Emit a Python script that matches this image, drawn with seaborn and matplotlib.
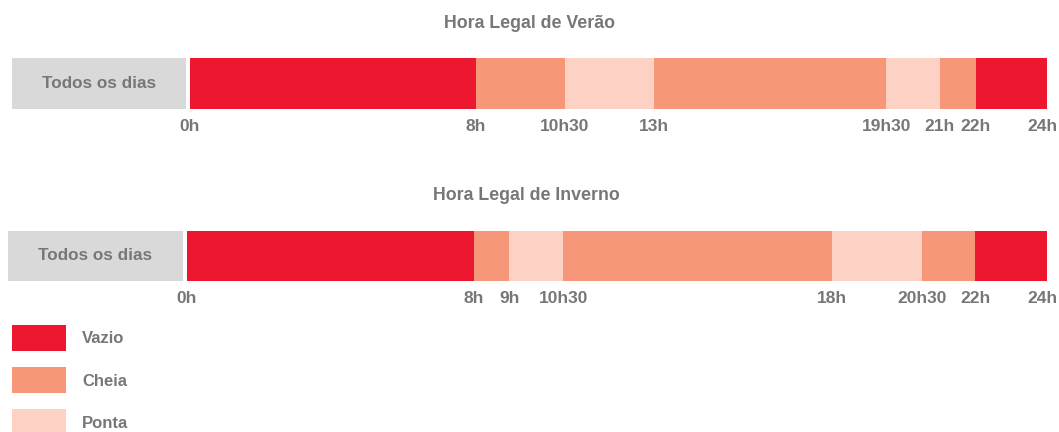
"""
Ciclo diário - horários de Vazio / Cheia / Ponta
"""

import matplotlib
matplotlib.use('Agg')
import matplotlib.pyplot as plt
import matplotlib.transforms as mtransforms
from matplotlib.patches import Patch
import seaborn as sns
import pandas as pd

# data
SUMMER_HOURS = [0, 8, 10.5, 13, 19.5, 21, 22, 24]
SUMMER_PERIODS = ['Vazio', 'Cheia', 'Ponta', 'Cheia', 'Ponta', 'Cheia', 'Vazio']
SUMMER_LABELS = ['0h', '8h', '10h30', '13h', '19h30', '21h', '22h', '24h']

WINTER_HOURS = [0, 8, 9, 10.5, 18, 20.5, 22, 24]
WINTER_PERIODS = ['Vazio', 'Cheia', 'Ponta', 'Cheia', 'Ponta', 'Cheia', 'Vazio']
WINTER_LABELS = ['0h', '8h', '9h', '10h30', '18h', '20h30', '22h', '24h']

ROW_LABEL = 'Todos os dias'
PERIODS = ['Vazio', 'Cheia', 'Ponta']
COLORS = {'Vazio': '#ee1730', 'Cheia': '#f59778', 'Ponta': '#fdd1c3'}
GREY_BOX = '#d9d9d9'
TEXT = '#777777'

W, H = 1059, 432

sns.set_theme(style='white')
plt.rcParams['font.family'] = ['Liberation Sans', 'DejaVu Sans']
plt.rcParams['font.weight'] = 'bold'


def px_axes(fig, x0, y0, x1, y1):
    """Axes placed with pixel coordinates (top-left origin)."""
    return fig.add_axes([x0 / W, 1 - y1 / H, (x1 - x0) / W, (y1 - y0) / H])


def draw_schedule(fig, box, bar, hours, periods, labels, title, title_xy):
    # grey label box
    lab = px_axes(fig, *box)
    lab.set_facecolor(GREY_BOX)
    lab.set_xticks([])
    lab.set_yticks([])
    for s in lab.spines.values():
        s.set_visible(False)
    lab.text(0.5, 0.5, ROW_LABEL, ha='center', va='center', fontsize=12.3,
             color=TEXT, fontweight='bold', transform=lab.transAxes)

    # stacked bar: draw cumulative ends from the longest to the shortest
    ax = px_axes(fig, *bar)
    seg = pd.DataFrame({'start': hours[:-1], 'end': hours[1:], 'period': periods})
    seg['row'] = ROW_LABEL
    for _, r in seg.sort_values('end', ascending=False).iterrows():
        sns.barplot(x=[r['end']], y=[r['row']], orient='h', color=COLORS[r['period']],
                    saturation=1, width=1, linewidth=0, ax=ax)
    ax.set_xlim(0, 24)
    ax.set_ylim(0.5, -0.5)
    ax.set_xlabel('')
    ax.set_ylabel('')
    ax.set_yticks([])
    ax.set_xticks(hours, labels)
    ax.tick_params(axis='x', length=0, pad=7.5, labelsize=12.5, labelcolor=TEXT)
    for s in ax.spines.values():
        s.set_visible(False)
    # keep the last label inside the figure
    last = ax.get_xticklabels()[-1]
    last.set_transform(last.get_transform() +
                       mtransforms.ScaledTranslation(-5 / 100, 0, fig.dpi_scale_trans))

    fig.text(title_xy[0] / W, 1 - title_xy[1] / H, title, ha='center', va='center',
             fontsize=12.8, color=TEXT, fontweight='bold')


fig = plt.figure(figsize=(W / 100, H / 100), dpi=100)

draw_schedule(fig, (12, 58, 186, 109), (190, 58, 1047, 109),
              SUMMER_HOURS, SUMMER_PERIODS, SUMMER_LABELS, 'Hora Legal de Verão', (530, 24))
draw_schedule(fig, (8, 231, 183, 281), (187, 231, 1047, 281),
              WINTER_HOURS, WINTER_PERIODS, WINTER_LABELS, 'Hora Legal de Inverno', (526, 196))

handles = [Patch(facecolor=COLORS[p], edgecolor='none', label=p) for p in PERIODS]
leg = fig.legend(handles=handles, loc='upper left', bbox_to_anchor=(12 / W, 1 - 325 / H),
                 frameon=False, fontsize=12, handlelength=3.25, handleheight=2.05,
                 handletextpad=0.95, labelspacing=0.95, borderpad=0, borderaxespad=0)
for t in leg.get_texts():
    t.set_color(TEXT)
    t.set_fontweight('bold')

plt.savefig('out.png', dpi=100)
plt.close()
